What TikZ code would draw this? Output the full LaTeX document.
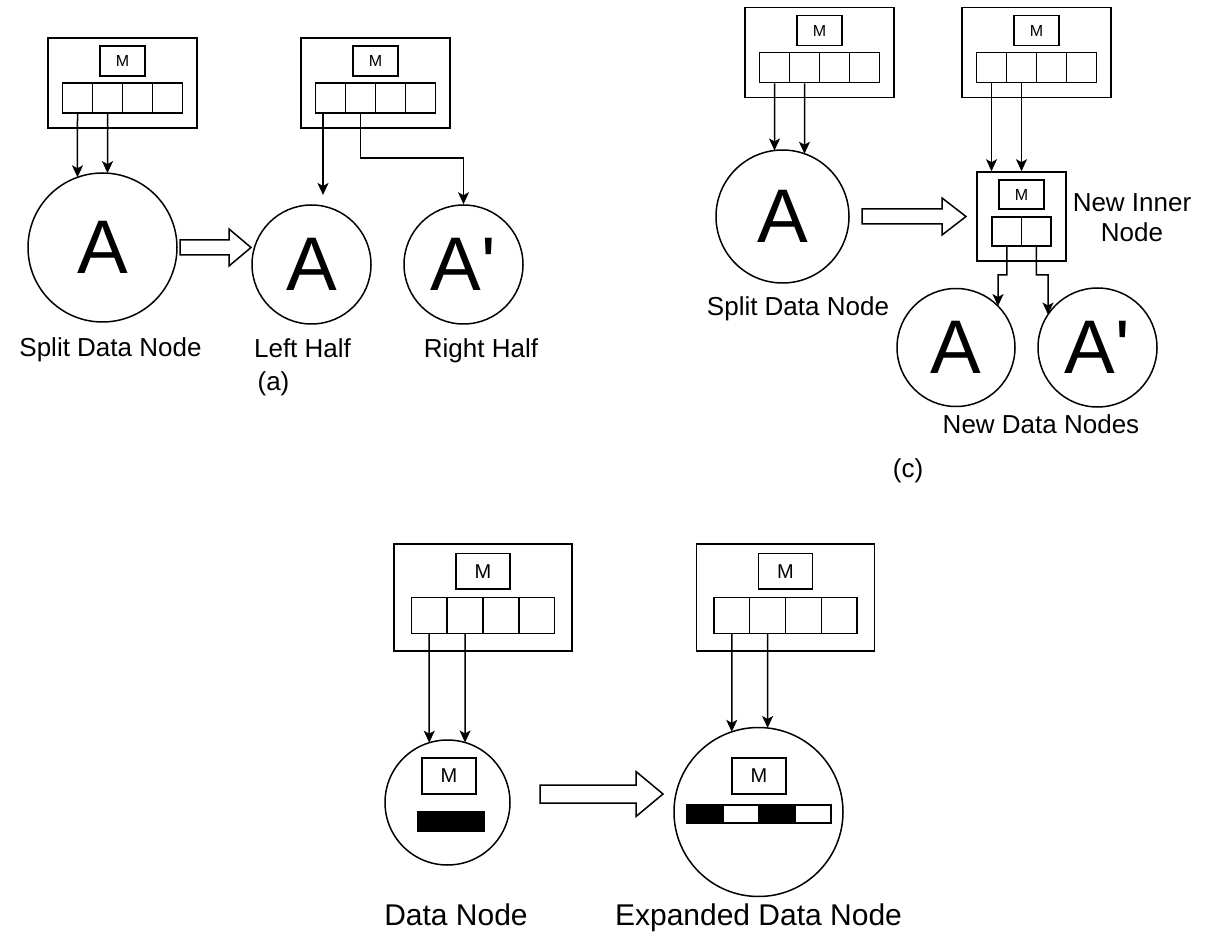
\documentclass[tikz,border=0pt]{standalone}
\usepackage{fontspec}
\setmainfont{Liberation Sans}
\usetikzlibrary{arrows.meta,intersections}
\tikzset{
  x=1pt, y=-1pt,
  rect/.style={draw, line width=1.6pt, rectangle, inner sep=0pt},
  circ/.style={draw, line width=1.5pt, circle, inner sep=0pt},
  arr/.style={line width=1.5pt, -{Stealth[length=12pt,width=11pt,inset=3pt]}},
  hollow/.style={draw, line width=1.5pt, fill=white, line join=miter},
  lbl/.style={font=\fontsize{26}{30}\selectfont, anchor=base, inner sep=0pt},
  lblb/.style={font=\fontsize{30}{34}\selectfont, anchor=base, inner sep=0pt},
  bigA/.style={font=\fontsize{76}{80}\selectfont},
}
% memory box: name, cx, cy, scale, M font size
\newcommand\membox[5]{%
  \node[rect, minimum width=149*#4, minimum height=90*#4] (#1) at (#2,#3) {};
  \node[rect, minimum width=45*#4, minimum height=30*#4, font=\fontsize{#5}{#5}\selectfont] (#1m) at ({#2},{#3-22*#4}) {M};
  \foreach \i in {1,...,4}
    \node[rect, minimum width=30*#4, minimum height=30*#4] (#1c\i) at ({#2+(\i-2.5)*30*#4},{#3+15*#4}) {};
}
% circle node with a named border path: name, cx, cy, r, text
\newcommand\circnode[5]{%
  \node[circ, bigA, minimum size=2*#4] (#1) at (#2,#3) {#5};
  \path[name path=p#1] (#1.center) circle (#4pt);
}
% vertical arrow from a point down to a circle border: start, circle, path name
\newcommand\dropon[3]{%
  \path[name path=#3] (#1) -- ++(0,400);
  \draw[arr, name intersections={of=#3 and p#2, sort by=#3}] (#1) -- (intersection-1);
}
% hollow block arrow: x0, xhead, xtip, cy, half shaft, half head
\newcommand\fatarrow[6]{%
  \draw[hollow] (#1,{#4-#5}) -- (#2,{#4-#5}) -- (#2,{#4-#6}) -- (#3,#4)
    -- (#2,{#4+#6}) -- (#2,{#4+#5}) -- (#1,{#4+#5}) -- cycle;
}
\begin{document}
\begin{tikzpicture}
\useasboundingbox (0,0) rectangle (1219,933);

% ---------------- panel (a)
\membox{b1}{122.5}{83}{1}{16}
\membox{b2}{375.5}{83}{1}{16}
\circnode{A1}{102.5}{247.5}{74.5}{A}
\circnode{LH}{311.5}{264.5}{59.5}{A}
\circnode{RH}{463.5}{264.5}{59.5}{A\textquotesingle}
\dropon{b1c1.south}{A1}{v1}
\dropon{b1c2.south}{A1}{v2}
\coordinate (s1) at ([xshift=-7.5pt]b2c1.south);
\coordinate (kb) at (0,195);
\draw[arr] (s1) -- (s1 |- kb);
\coordinate (ka) at (0,158);
\draw[arr] (b2c2.south) -- (b2c2.south |- ka) -| (RH.north);
\fatarrow{180}{229}{251}{247.5}{7.5}{18.5}
\node[lbl] (la1) at (110.5,357) {Split Data Node};
\node[lbl] (la2) at (302.5,358) {Left Half};
\node[lbl] (la3) at (481,358) {Right Half};
\node[lbl] (la4) at (273.5,391) {(a)};

% ---------------- panel (c)
\membox{b3}{819.5}{52.5}{1}{16}
\membox{b4}{1036.5}{52.5}{1}{16}
\circnode{C1}{782.5}{216.5}{66.5}{A}
\dropon{b3c1.south}{C1}{v3}
\dropon{b3c2.south}{C1}{v4}
\fatarrow{862}{942}{966}{216.5}{7.5}{18.5}
\node[rect, minimum size=89] (in) at (1021.5,216.5) {};
\node[rect, minimum width=45, minimum height=29, font=\fontsize{16}{16}\selectfont] (inm) at (1021.5,194.5) {M};
\node[rect, minimum width=29.5, minimum height=29] (ic1) at (1006.75,231.5) {};
\node[rect, minimum width=29.5, minimum height=29] (ic2) at (1036.25,231.5) {};
\draw[arr] (b4c1.south) -- (b4c1.south |- in.north);
\draw[arr] (b4c2.south) -- (b4c2.south |- in.north);
\circnode{C2}{956}{347.5}{59}{A}
\circnode{C3}{1097.5}{347.5}{59.5}{A\textquotesingle}
\coordinate (k1) at (998,275);
\coordinate (k2) at (1048,275);
\path[name path=v7] (k1) -- ++(0,200);
\draw[arr, name intersections={of=v7 and pC2, sort by=v7}] (ic1.south) |- (k1) -- (intersection-1);
\path[name path=v8] (k2) -- ++(0,200);
\draw[arr, name intersections={of=v8 and pC3, sort by=v8}] (ic2.south) |- (k2) -- (intersection-1);
\node[lbl] (lc1) at (798,316) {Split Data Node};
\node[font=\fontsize{26}{30}\selectfont, align=center, inner sep=0pt] (lc2) at (1132,217.5) {New Inner\\Node};
\node[lbl] (lc3) at (1041,433) {New Data Nodes};
\node[lbl] (lc4) at (908,477) {(c)};

% ---------------- bottom panel
\membox{b5}{483}{597.5}{1.1946}{20}
\membox{b6}{785.5}{597.5}{1.1946}{20}
\circnode{D1}{447.5}{802.5}{62.5}{}
\circnode{D2}{758.5}{812}{84.5}{}
\dropon{b5c1.south}{D1}{v5}
\dropon{b5c2.south}{D1}{v6}
\dropon{b6c1.south}{D2}{v9}
\dropon{b6c2.south}{D2}{v10}
\node[rect, minimum width=54, minimum height=36, font=\fontsize{20}{20}\selectfont] (d1m) at (449,776) {M};
\node[rect, fill=black, minimum width=66, minimum height=19] (d1bar) at (451,821.5) {};
\node[rect, minimum width=54, minimum height=36, font=\fontsize{20}{20}\selectfont] (d2m) at (759,776) {M};
\node[rect, fill=black, minimum width=36, minimum height=18] (d2b1) at (705,814) {};
\node[rect, fill=white, minimum width=36, minimum height=18] (d2b2) at (741,814) {};
\node[rect, fill=black, minimum width=36, minimum height=18] (d2b3) at (777,814) {};
\node[rect, fill=white, minimum width=36, minimum height=18] (d2b4) at (813,814) {};
\fatarrow{540}{636}{663}{794}{9}{22.5}
\node[lblb] (lb1) at (456,925) {Data Node};
\node[lblb] (lb2) at (758.5,925) {Expanded Data Node};
\end{tikzpicture}
\end{document}
